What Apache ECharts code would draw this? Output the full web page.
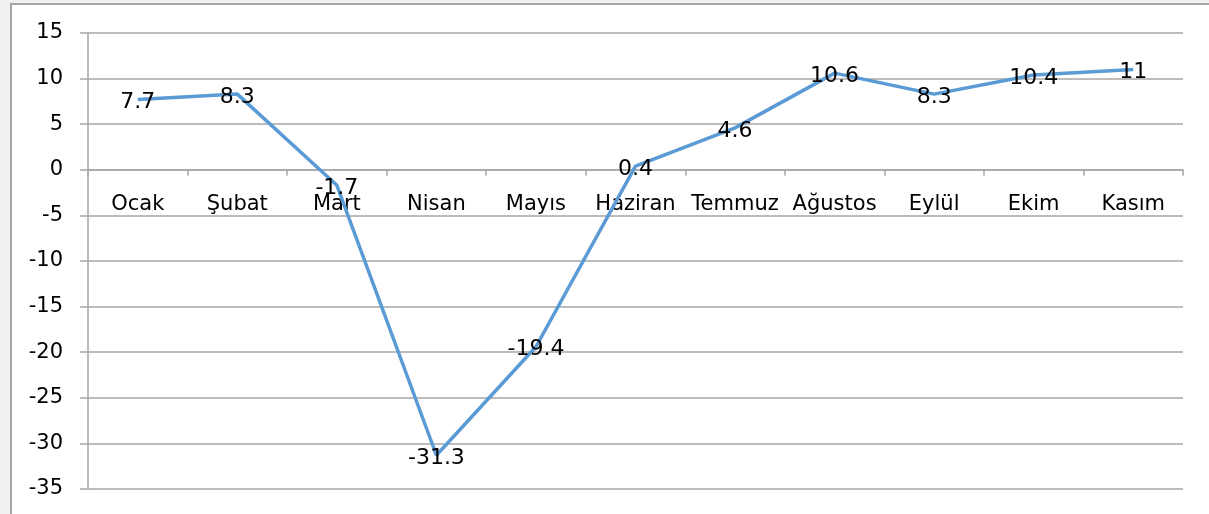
<!DOCTYPE html>
<html>
<head>
<meta charset="utf-8">
<script src="https://cdn.jsdelivr.net/npm/echarts@6/dist/echarts.min.js"></script>
<style>
  html, body { margin: 0; padding: 0; background: #f0f0f0; }
  #frame { position: absolute; left: 10px; top: 3px; width: 1199px; height: 511px; background: #fff;
           border-left: 2px solid #a6a6a6; border-top: 2px solid #a6a6a6; box-sizing: border-box; }
  #chart { position: absolute; left: 0; top: 0; width: 1209px; height: 514px; }
</style>
</head>
<body>
<div id="frame"></div>
<div id="chart"></div>
<script>
// aylar ve değişim (%)
const months = ["Ocak", "Şubat", "Mart", "Nisan", "Mayıs", "Haziran", "Temmuz", "Ağustos", "Eylül", "Ekim", "Kasım"];
const values = [7.7, 8.3, -1.7, -31.3, -19.4, 0.4, 4.6, 10.6, 8.3, 10.4, 11];

const gridColor = "#a6a6a6";
const font = "'DejaVu Sans', sans-serif";

let chart = echarts.init(document.getElementById("chart"));
chart.setOption({
  animation: false,
  grid: { left: 88, right: 26, top: 33, bottom: 25, outerBoundsMode: "none" },
  xAxis: {
    type: "category",
    data: months,
    boundaryGap: true,
    axisLine: { onZero: true, lineStyle: { color: gridColor, width: 1.5 } },
    axisTick: { show: true, length: 6, lineStyle: { color: gridColor, width: 1.5 } },
    // etiketler sıfır çizgisinin altında dursun
    axisLabel: { margin: -295, fontSize: 21, color: "#000", fontFamily: font, interval: 0 },
    splitLine: { show: false }
  },
  yAxis: {
    type: "value",
    min: -35,
    max: 15,
    interval: 5,
    axisLine: { show: true, lineStyle: { color: gridColor, width: 1.5 } },
    axisTick: { show: true, length: 8, lineStyle: { color: gridColor, width: 1.5 } },
    axisLabel: { margin: 25, fontSize: 21, color: "#000", fontFamily: font },
    splitLine: { show: true, lineStyle: { color: gridColor, width: 1.5 } }
  },
  series: [
    {
      type: "line",
      data: values,
      showSymbol: true,
      symbol: "circle",
      symbolSize: 1,
      itemStyle: { color: "rgba(0,0,0,0)" },
      lineStyle: { color: "#5b9bd5", width: 3.5 },
      label: {
        show: true,
        position: "inside",
        offset: [0, 3],
        fontSize: 22,
        color: "#000",
        fontFamily: font
      },
      z: 3
    }
  ]
});
</script>
</body>
</html>
